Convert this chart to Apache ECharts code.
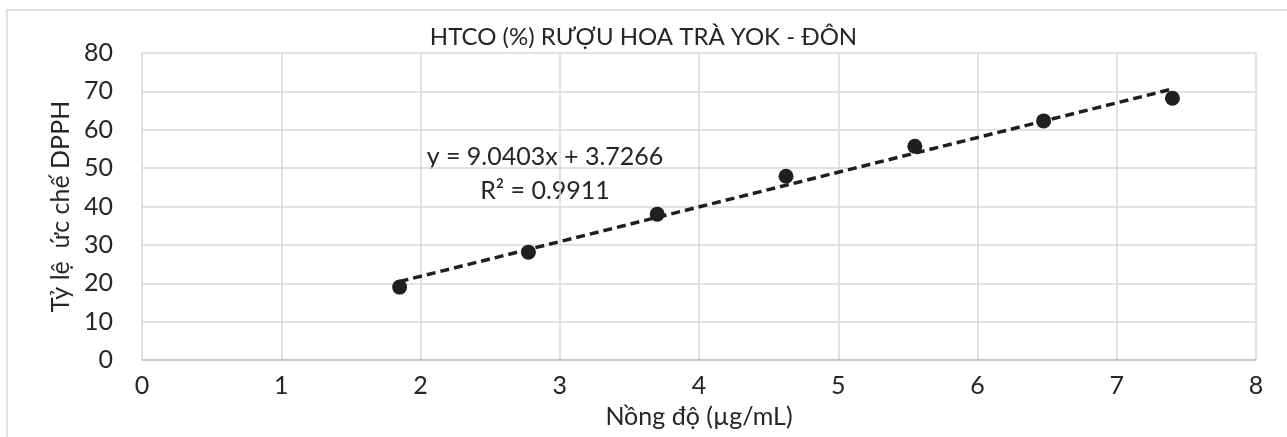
<!DOCTYPE html>
<html>
<head>
<meta charset="utf-8">
<script src="https://cdn.jsdelivr.net/npm/echarts@6/dist/echarts.min.js"></script>
<style>
  html, body { margin: 0; padding: 0; background: #fff; }
  #chart { width: 1287px; height: 437px; }
</style>
</head>
<body>
<div id="chart"></div>
<script>
// nồng độ (µg/mL) và tỷ lệ ức chế (%)
var concX = [1.85, 2.775, 3.70, 4.625, 5.55, 6.475, 7.40];
var inhibY = [19.0, 28.1, 38.0, 47.9, 55.7, 62.3, 68.2];
// đường xu hướng theo phương trình trên hình
var slope = 9.0403;
var intercept = 3.7266;
var rSquared = '0.9911';
var trendX = [1.85, 7.40];

var font = 'Lato, "Open Sans", sans-serif';
var chart = echarts.init(document.getElementById('chart'));

var points = concX.map(function (x, i) { return [x, inhibY[i]]; });
var trend = trendX.map(function (x) { return [x, slope * x + intercept]; });

chart.setOption({
  animation: false,
  title: {
    text: 'HTCO (%) RƯỢU HOA TRÀ YOK - ĐÔN',
    left: 'center',
    top: 20,
    textStyle: { fontFamily: font, fontSize: 24, fontWeight: 'normal', color: '#262626' }
  },
  grid: { left: 142, right: 31, top: 53, bottom: 77, outerBoundsMode: 'none', containLabel: false },
  xAxis: {
    type: 'value',
    min: 0, max: 8, interval: 1,
    name: 'Nồng độ (µg/mL)',
    nameLocation: 'middle',
    nameGap: 44,
    nameTextStyle: { fontFamily: font, fontSize: 25, color: '#262626' },
    axisLine: { show: true, onZero: false, lineStyle: { color: '#bfbfbf', width: 1.5 } },
    axisTick: { show: false },
    axisLabel: { fontFamily: font, fontSize: 25, color: '#262626', margin: 13 },
    splitLine: { show: true, lineStyle: { color: '#d9d9d9', width: 1.5 } }
  },
  yAxis: {
    type: 'value',
    min: 0, max: 80, interval: 10,
    name: 'Tỷ lệ  ức chế DPPH',
    nameLocation: 'middle',
    nameGap: 62,
    nameTextStyle: { fontFamily: font, fontSize: 25, color: '#262626' },
    axisLine: { show: false },
    axisTick: { show: false },
    axisLabel: { fontFamily: font, fontSize: 25, color: '#262626', margin: 29 },
    splitLine: { show: true, lineStyle: { color: '#d9d9d9', width: 1.5 } }
  },
  series: [
    {
      name: 'Trend',
      type: 'line',
      data: trend,
      symbol: 'none',
      lineStyle: { color: '#1f1f1f', width: 3.5, type: [9, 5] },
      z: 3
    },
    {
      name: 'HTCO',
      type: 'scatter',
      data: points,
      symbol: 'circle',
      symbolSize: 15,
      itemStyle: { color: '#1f1f1f', opacity: 1 },
      z: 4
    }
  ],
  graphic: [
    {
      type: 'rect',
      shape: { x: 7, y: 10, width: 1300, height: 450 },
      style: { fill: 'none', stroke: '#d9d9d9', lineWidth: 1.5 },
      silent: true,
      z: -1
    },
    {
      type: 'text',
      x: 545, y: 157,
      style: {
        text: 'y = ' + slope + 'x + ' + intercept,
        font: '25px ' + font,
        fill: '#262626',
        align: 'center',
        verticalAlign: 'middle'
      }
    },
    {
      type: 'text',
      x: 545, y: 191,
      style: {
        text: 'R² = ' + rSquared,
        font: '25px ' + font,
        fill: '#262626',
        align: 'center',
        verticalAlign: 'middle'
      }
    }
  ]
});
</script>
</body>
</html>
